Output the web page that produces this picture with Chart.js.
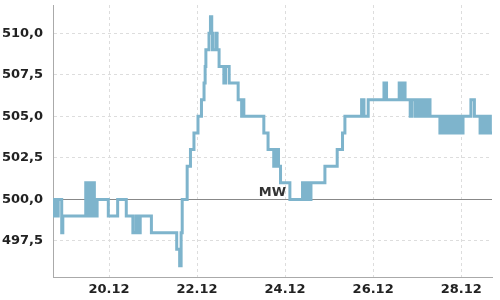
<!DOCTYPE html>
<html>
<head>
<meta charset="utf-8">
<script src="https://cdn.jsdelivr.net/npm/chart.js@4.4.0/dist/chart.umd.min.js"></script>
<style>
  body { margin: 0; background: #fff; }
  #wrap { width: 500px; height: 300px; }
</style>
</head>
<body>
<div id="wrap"><canvas id="chart" width="500" height="300"></canvas></div>
<script>
// hours since 18.12 00:00 where the value changes (step line)
const hours = [
    17.45, 18.2, 18.9, 19.6, 20.3, 22.2, 22.8, 35.3, 35.9, 36.5, 37.1, 37.7, 38.2,
    39.1, 40.0, 40.7, 41.5, 47.6, 52.7, 57.4, 61.0, 62.7, 63.8, 65.0, 71.1, 84.9,
    86.5, 87.3, 87.9, 90.6, 92.4, 94.3, 96.5, 98.4, 99.8, 100.4, 100.8, 102.5, 103.3,
    104.0, 104.4, 106.2, 106.9, 108.0, 110.6, 111.5, 113.5, 118.4, 120.3, 120.8, 121.5,
    132.4, 134.7, 137.8, 139.3, 140.4, 141.5, 146.6, 153.5, 154.2, 155.3, 156.0, 156.7,
    157.4, 158.1, 165.7, 172.4, 175.3, 176.6, 185.7, 187.0, 189.3, 197.9, 199.3, 206.2,
    206.9, 207.6, 208.3, 209.0, 209.4, 212.2, 213.0, 214.8, 215.5, 216.2, 216.9, 217.6,
    218.3, 219.0, 219.7, 220.4, 221.1, 221.8, 222.5, 223.0, 228.4, 229.9, 231.2, 231.9,
    232.6, 233.3, 234.0, 234.7, 235.4, 236.1, 236.8, 237.5, 238.9, 239.6, 240.3, 241.0,
    245.3, 247.2, 250.3, 251.0, 251.7, 252.4, 253.1, 253.8, 254.5, 255.2, 255.9, 256.8
];
const values = [
    500, 499, 500, 499, 500, 498, 499, 501, 499, 501, 499, 501, 499,
    501, 500, 499, 500, 499, 500, 499, 498, 499, 498, 499, 498, 497,
    496, 498, 500, 502, 503, 504, 505, 506, 507, 508, 509, 510, 511,
    510, 509, 510, 509, 508, 507, 508, 507, 506, 505, 506, 505,
    504, 503, 502, 503, 502, 501, 500, 501, 500, 501, 500, 501,
    500, 501, 502, 503, 504, 505, 506, 505, 506, 507, 506, 507,
    506, 507, 506, 507, 506, 505, 506, 505, 506, 505, 506, 505,
    506, 505, 506, 505, 506, 505, 506, 505, 504, 505, 504, 505,
    504, 505, 504, 505, 504, 505, 504, 505, 504, 505, 504, 505,
    506, 505, 504, 505, 504, 505, 504, 505, 504, 505, 504, 504
];

const xTickHours = [48, 96, 144, 192, 240];
const xTickLabels = ['20.12', '22.12', '24.12', '26.12', '28.12'];
const yTicks = [497.5, 500, 502.5, 505, 507.5, 510];
const meanValue = 500;
const meanLabel = 'MW';

const tickFont = { family: 'DejaVu Sans', size: 13, weight: 'bold' };

// solid MW line under the data, label on top
const meanLinePlugin = {
    id: 'meanLine',
    beforeDatasetsDraw(chart) {
        const { ctx, chartArea, scales } = chart;
        const y = Math.round(scales.y.getPixelForValue(meanValue)) + 0.5;
        ctx.save();
        ctx.strokeStyle = '#888';
        ctx.lineWidth = 1;
        ctx.beginPath();
        ctx.moveTo(chartArea.left, y);
        ctx.lineTo(chartArea.right, y);
        ctx.stroke();
        ctx.restore();
    },
    afterDatasetsDraw(chart) {
        const { ctx, chartArea, scales } = chart;
        const y = scales.y.getPixelForValue(meanValue);
        ctx.save();
        ctx.fillStyle = '#333';
        ctx.font = 'bold 13px "DejaVu Sans"';
        ctx.textAlign = 'center';
        ctx.textBaseline = 'alphabetic';
        ctx.fillText(meanLabel, (chartArea.left + chartArea.right) / 2, y - 3);
        ctx.restore();
    }
};

new Chart(document.getElementById('chart'), {
    type: 'line',
    data: {
        datasets: [{
            data: hours.map((h, i) => ({ x: h, y: values[i] })),
            borderColor: '#7eb4cc',
            borderWidth: 3,
            stepped: true,
            pointRadius: 0,
            fill: false
        }]
    },
    options: {
        responsive: false,
        animation: false,
        layout: { padding: { top: 5, right: 8, left: 0, bottom: 0 } },
        plugins: { legend: { display: false }, tooltip: { enabled: false } },
        scales: {
            x: {
                type: 'linear',
                min: hours[0],
                max: hours[hours.length - 1],
                afterBuildTicks: s => { s.ticks = xTickHours.map(v => ({ value: v })); },
                afterFit: s => { s.height = 23; s.paddingLeft = 0; s.paddingRight = 0; },
                ticks: {
                    autoSkip: false,
                    maxRotation: 0,
                    padding: 5,
                    color: '#222',
                    font: tickFont,
                    callback: v => xTickLabels[xTickHours.indexOf(v)]
                },
                grid: { color: '#ddd', drawTicks: false },
                border: { display: true, color: '#aaa', width: 1, dash: [3, 3] }
            },
            y: {
                min: 495.33,
                max: 511.7,
                afterBuildTicks: s => { s.ticks = yTicks.map(v => ({ value: v })); },
                afterFit: s => { s.width = 53; s.paddingTop = 0; s.paddingBottom = 0; },
                ticks: {
                    padding: 10,
                    color: '#222',
                    font: tickFont,
                    callback: v => v.toFixed(1).replace('.', ',')
                },
                grid: { color: '#ddd', drawTicks: false },
                border: { display: true, color: '#aaa', width: 1, dash: [3, 3] }
            }
        }
    },
    plugins: [meanLinePlugin]
});
</script>
</body>
</html>
